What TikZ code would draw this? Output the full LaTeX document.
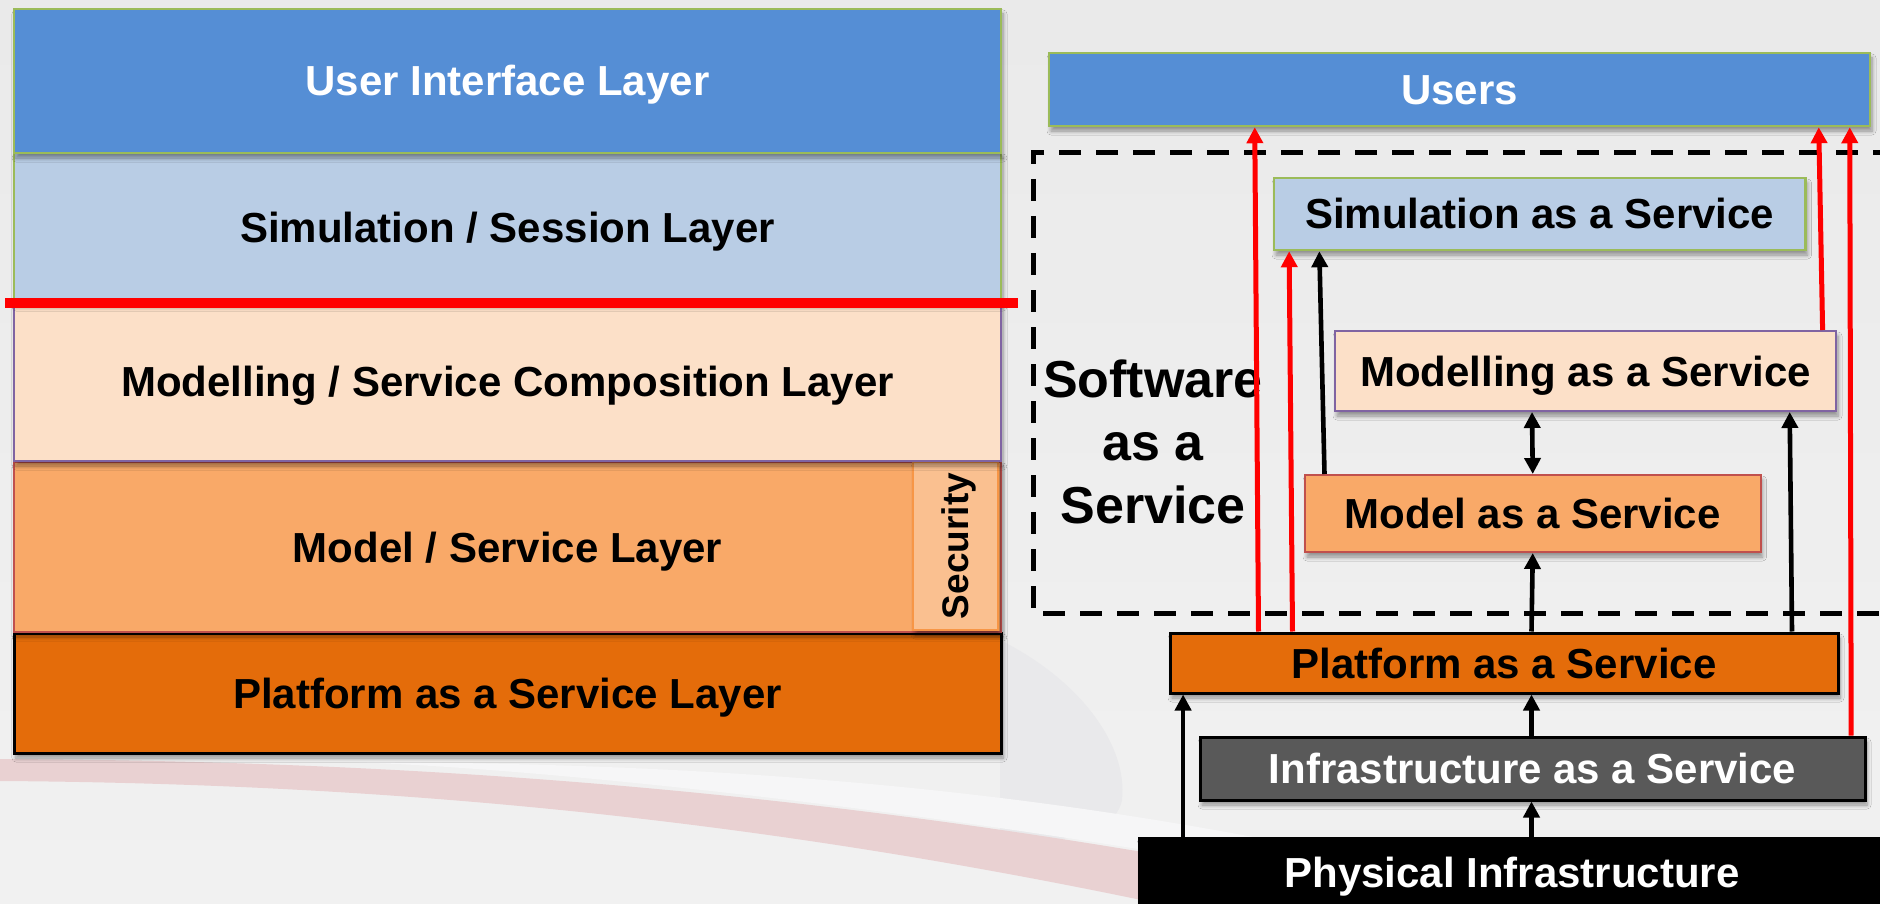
\documentclass[tikz,border=0pt]{standalone}
\usepackage{fontspec}
\setmainfont{Liberation Sans}
\usetikzlibrary{arrows.meta,shadows.blur}

\definecolor{bgtop}{HTML}{EAEAEA}
\definecolor{bgbottom}{HTML}{F1F1F1}
\definecolor{swooshpink}{HTML}{E9D1D2}
\definecolor{swooshlight}{HTML}{F6F6F7}
\definecolor{swooshgrey}{HTML}{E9E9EB}
\definecolor{uiblue}{HTML}{558ED5}
\definecolor{simblue}{HTML}{B9CDE5}
\definecolor{leafgreen}{HTML}{9BBB59}
\definecolor{peach}{HTML}{FCE0C8}
\definecolor{violet}{HTML}{8064A2}
\definecolor{apricot}{HTML}{F9A968}
\definecolor{brick}{HTML}{C0504D}
\definecolor{secfill}{HTML}{FAC090}
\definecolor{secedge}{HTML}{F79646}
\definecolor{pumpkin}{HTML}{E46C0A}
\definecolor{slate}{HTML}{595959}
\definecolor{arrowred}{HTML}{FF0000}

\tikzset{
  txt/.style={font=\bfseries\fontsize{42}{50}\selectfont},
  layer/.style={rectangle, inner sep=0pt, txt, text height=30pt, text depth=0pt,
    blur shadow={shadow xshift=2pt, shadow yshift=-5pt, shadow opacity=40,
      shadow blur radius=4pt, shadow blur steps=6}},
  greenbox/.style={layer, draw=leafgreen, line width=2.5pt},
  violetbox/.style={layer, fill=peach, draw=violet, line width=2pt},
  brickbox/.style={layer, fill=apricot, draw=brick, line width=2pt},
  blackbox/.style={layer, draw=black, line width=3pt},
  saasframe/.style={draw=black, line width=5pt, dash pattern=on 22pt off 15pt},
  uplink/.style={draw=black, line width=4.6pt, -{Triangle[length=16pt,width=16pt]}},
  bothlink/.style={draw=black, line width=4.6pt,
    {Triangle[length=16pt,width=16pt]}-{Triangle[length=16pt,width=16pt]}},
  redlink/.style={draw=arrowred, line width=5pt, -{Triangle[length=16pt,width=16pt]}},
}

\begin{document}
\begin{tikzpicture}[x=1pt,y=-1pt]
\useasboundingbox (0,0) rectangle (1880,904);

% backdrop with the sweeping bands
\begin{scope}
  \clip (0,0) rectangle (1880,904);
  \shade[top color=bgtop, bottom color=bgbottom] (0,0) rectangle (1880,904);
  \fill[swooshgrey] (1000,640) .. controls (1080,680) and (1128,745) .. (1122,800)
    .. controls (1115,835) and (1060,845) .. (1000,840) -- cycle;
  \fill[swooshlight] (330,762) .. controls (700,762) and (1000,785) .. (1320,850)
    -- (1320,880) .. controls (850,795) and (450,762) .. (330,762) -- cycle;
  \fill[swooshpink] (0,759) .. controls (450,761) and (850,795) .. (1300,880)
    -- (1300,935) .. controls (850,830) and (450,784) .. (0,781) -- cycle;
\end{scope}

% left: layered architecture, drawn bottom-up so upper shadows fall on lower layers
\node[blackbox, fill=pumpkin, minimum width=987pt, minimum height=120pt]
  (paasL) at (507.5,693) {Platform as a Service Layer};
\node[brickbox, minimum width=987pt, minimum height=170pt]
  (modelL) at (507.5,547) {Model / Service Layer};
\node[layer, fill=secfill, draw=secedge, line width=2pt,
  minimum width=85pt, minimum height=168pt] (sec) at (955.5,546) {};
\node[rotate=90, font=\bfseries\fontsize{37}{44}\selectfont, inner sep=0pt,
  text height=26.5pt, text depth=0pt] (secl) at (sec.center) {Security};
\node[violetbox, minimum width=987pt, minimum height=159pt]
  (modlL) at (507.5,381.5) {Modelling / Service Composition Layer};
\node[greenbox, fill=simblue, minimum width=987pt, minimum height=149pt]
  (simL) at (507.5,227.5) {Simulation / Session Layer};
\node[greenbox, fill=uiblue, text=white, minimum width=987pt, minimum height=144pt]
  (uiL) at (507.5,81) {User Interface Layer};
\draw[arrowred, line width=10pt] (5,302.5) -- (1018,302.5);

% right: service stack
\draw[saasframe] (1895,153) -- (1033,153) -- (1033,613) -- (1895,613);

\node[greenbox, fill=uiblue, text=white, minimum width=821pt, minimum height=73pt]
  (users) at (1459.5,89.5) {Users};
\node[greenbox, fill=simblue, minimum width=531.5pt, minimum height=72pt]
  (simS) at (1539.75,214) {Simulation as a Service};
\node[violetbox, minimum width=501pt, minimum height=80pt]
  (modlS) at (1585.5,371) {Modelling as a Service};
\node[brickbox, minimum width=455.5pt, minimum height=77pt]
  (modelS) at (1532.75,513.5) {Model as a Service};
\node[blackbox, fill=pumpkin, minimum width=668pt, minimum height=60pt]
  (paas) at (1504,663) {Platform as a Service};
\node[blackbox, fill=slate, text=white, minimum width=665pt, minimum height=63pt]
  (iaas) at (1532.5,768.5) {Infrastructure as a Service};
\node[blackbox, fill=black, text=white, minimum width=746pt, minimum height=68pt]
  (phys) at (1512,872) {Physical Infrastructure};

\node[align=center, font=\bfseries\fontsize{52}{63}\selectfont, inner sep=0pt]
  (saas) at (1153,442) {Software\\as a\\Service};

% black dependencies
\draw[uplink] ([xshift=394pt]phys.north west) -- ([xshift=333pt]iaas.south west);
\draw[uplink] ([xshift=45.6pt]phys.north west) -- ([xshift=14.6pt]paas.south west);
\draw[uplink] ([xshift=333pt]iaas.north west) -- ([xshift=363pt]paas.south west);
\draw[uplink] ([xshift=363pt]paas.north west) -- (modelS.south);
\draw[uplink] ([xshift=623.5pt]paas.north west) -- ([xshift=455.7pt]modlS.south west);
\draw[bothlink] ([xshift=198pt]modlS.south west) -- (modelS.north);
\draw[uplink] ([xshift=20.5pt]modelS.north west) -- ([xshift=46.6pt]simS.south west);

% red direct paths to the users
\draw[redlink] ([xshift=90pt]paas.north west) -- ([xshift=207pt]users.south west);
\draw[redlink] ([xshift=124pt]paas.north west) -- ([xshift=16.4pt]simS.south west);
\draw[redlink] ([xshift=488.6pt]modlS.north west) -- ([xshift=771pt]users.south west);
\draw[redlink] ([xshift=652.7pt]iaas.north west) -- ([xshift=802pt]users.south west);
\end{tikzpicture}
\end{document}
